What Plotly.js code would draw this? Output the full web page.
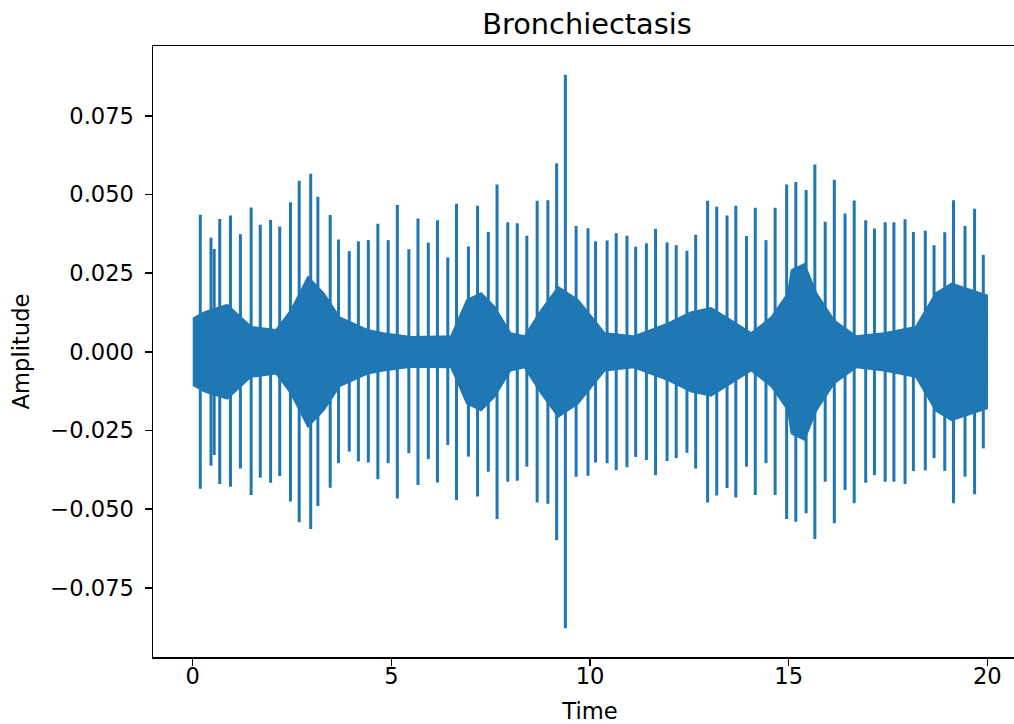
<!DOCTYPE html>
<html>
<head>
<meta charset="utf-8">
<script src="https://cdn.plot.ly/plotly-3.0.1.min.js"></script>
<style>
  html, body { margin: 0; padding: 0; overflow: hidden; background: #fff; }
  #chart { width: 1040px; height: 724px; }
</style>
</head>
<body>
<div id="chart"></div>
<script>
// Spike events: time (s), upper and lower peak amplitude
const spikeTime = [0.19,0.46,0.54,0.68,0.95,1.20,1.47,1.70,1.96,2.19,2.46,2.68,2.97,3.15,3.46,3.67,3.94,4.17,4.42,4.66,4.92,5.15,5.44,5.67,5.93,6.16,6.42,
  6.64,6.94,7.17,7.44,7.66,7.93,8.17,8.41,8.67,8.94,9.16,9.38,9.65,9.95,10.14,10.43,10.66,10.93,11.15,11.42,11.65,11.94,12.17,12.44,12.66,12.96,13.19,
  13.45,13.67,13.94,14.16,14.43,14.66,14.95,15.18,15.44,15.66,15.92,16.15,16.42,16.65,16.94,17.16,17.43,17.65,17.93,18.14,18.44,18.66,18.93,19.15,19.44,19.68,19.90];
const spikeTop = [0.0436,0.0363,0.0327,0.0422,0.0433,0.0374,0.0459,0.0404,0.0419,0.0398,0.0475,0.0544,0.0566,0.0493,0.0435,0.0357,0.0320,0.0351,0.0355,0.0407,0.0355,0.0467,0.0326,0.0424,0.0347,0.0418,0.0300,
  0.0471,0.0335,0.0464,0.0381,0.0532,0.0412,0.0409,0.0369,0.0480,0.0482,0.0599,0.0881,0.0400,0.0393,0.0351,0.0354,0.0377,0.0369,0.0334,0.0345,0.0391,0.0348,0.0339,0.0321,0.0372,0.0480,0.0461,
  0.0433,0.0464,0.0368,0.0458,0.0355,0.0458,0.0532,0.0540,0.0514,0.0595,0.0413,0.0547,0.0440,0.0481,0.0418,0.0392,0.0412,0.0412,0.0421,0.0381,0.0385,0.0339,0.0380,0.0482,0.0400,0.0455,0.0308];
const spikeBottom = [-0.0435,-0.0362,-0.0328,-0.0420,-0.0429,-0.0371,-0.0455,-0.0400,-0.0416,-0.0395,-0.0476,-0.0542,-0.0563,-0.0490,-0.0432,-0.0354,-0.0317,-0.0348,-0.0352,-0.0405,-0.0354,-0.0466,-0.0322,-0.0423,-0.0341,-0.0415,-0.0296,
  -0.0471,-0.0333,-0.0460,-0.0381,-0.0531,-0.0413,-0.0410,-0.0365,-0.0479,-0.0483,-0.0599,-0.0879,-0.0397,-0.0394,-0.0352,-0.0354,-0.0376,-0.0367,-0.0334,-0.0344,-0.0392,-0.0347,-0.0338,-0.0321,-0.0371,-0.0479,-0.0457,
  -0.0433,-0.0463,-0.0365,-0.0455,-0.0354,-0.0455,-0.0531,-0.0540,-0.0513,-0.0595,-0.0413,-0.0545,-0.0439,-0.0481,-0.0416,-0.0392,-0.0413,-0.0413,-0.0420,-0.0379,-0.0377,-0.0338,-0.0378,-0.0481,-0.0397,-0.0453,-0.0307];

// Envelope of the dense background signal: time (s) and half-width amplitude
const envTime = [0.00,0.30,0.87,1.47,2.10,2.47,2.90,3.30,3.70,4.40,4.80,5.50,6.50,6.90,7.26,7.60,8.00,8.35,8.77,9.20,9.70,9.86,10.37,11.10,11.95,12.55,13.05,13.56,14.06,14.56,14.98,15.07,15.40,15.70,16.15,16.70,17.40,18.20,18.70,19.10,19.60,20.00];
const envAmp  = [0.0106,0.0127,0.0150,0.0080,0.0070,0.0133,0.0239,0.0186,0.0110,0.0070,0.0060,0.0048,0.0050,0.0165,0.0187,0.0143,0.0060,0.0050,0.0133,0.0207,0.0165,0.0140,0.0060,0.0050,0.0090,0.0127,0.0140,0.0100,0.0060,0.0110,0.0186,0.0260,0.0280,0.0187,0.0100,0.0050,0.0060,0.0080,0.0187,0.0218,0.0197,0.0180];

const xTicks = [0, 5, 10, 15, 20];
const yTicks = [-0.075, -0.05, -0.025, 0, 0.025, 0.05, 0.075];
const blue = '#1f77b4';

// body polygon
const bodyX = envTime.concat(envTime.slice().reverse());
const bodyY = envAmp.concat(envAmp.slice().reverse().map(v => -v));

// spike segments
const sx = [], sy = [];
spikeTime.forEach((t, i) => { sx.push(t, t, null); sy.push(spikeBottom[i], spikeTop[i], null); });

const font = {family: 'DejaVu Sans, sans-serif', size: 22.6, color: '#000'};

const data = [
  {x: bodyX, y: bodyY, mode: 'lines', fill: 'toself', fillcolor: blue, line: {color: blue, width: 1.5}, hoverinfo: 'skip', showlegend: false},
  {x: sx, y: sy, mode: 'lines', line: {color: blue, width: 3}, connectgaps: false, showlegend: false}
];

const layout = {
  width: 1040, height: 724,
  margin: {l: 153, r: 13, t: 46, b: 67},
  paper_bgcolor: '#fff', plot_bgcolor: '#fff',
  font: font,
  title: {text: 'Bronchiectasis', font: {family: 'DejaVu Sans, sans-serif', size: 28.8, color: '#000'},
          x: 587/1040, xref: 'container', xanchor: 'center', y: 1 - 24/724, yref: 'container', yanchor: 'middle'},
  xaxis: {
    range: [-1, 21], tickvals: xTicks, ticktext: xTicks.map(String),
    showline: true, mirror: true, linecolor: '#000', linewidth: 1.5,
    ticks: 'outside', ticklen: 7, tickwidth: 1.5, tickcolor: '#000',
    ticklabelstandoff: -9,
    showgrid: false, zeroline: false, tickfont: font,
    title: {text: 'Time', font: font, standoff: 15}
  },
  yaxis: {
    range: [-0.0970, 0.0972], tickvals: yTicks, tickformat: '.3f',
    showline: true, mirror: true, linecolor: '#000', linewidth: 1.5,
    ticks: 'outside', ticklen: 7, tickwidth: 1.5, tickcolor: '#000',
    ticklabelstandoff: 6,
    showgrid: false, zeroline: false, tickfont: font,
    title: {text: 'Amplitude', font: font, standoff: 14}
  }
};

Plotly.newPlot('chart', data, layout, {displayModeBar: false, staticPlot: true});
</script>
</body>
</html>
